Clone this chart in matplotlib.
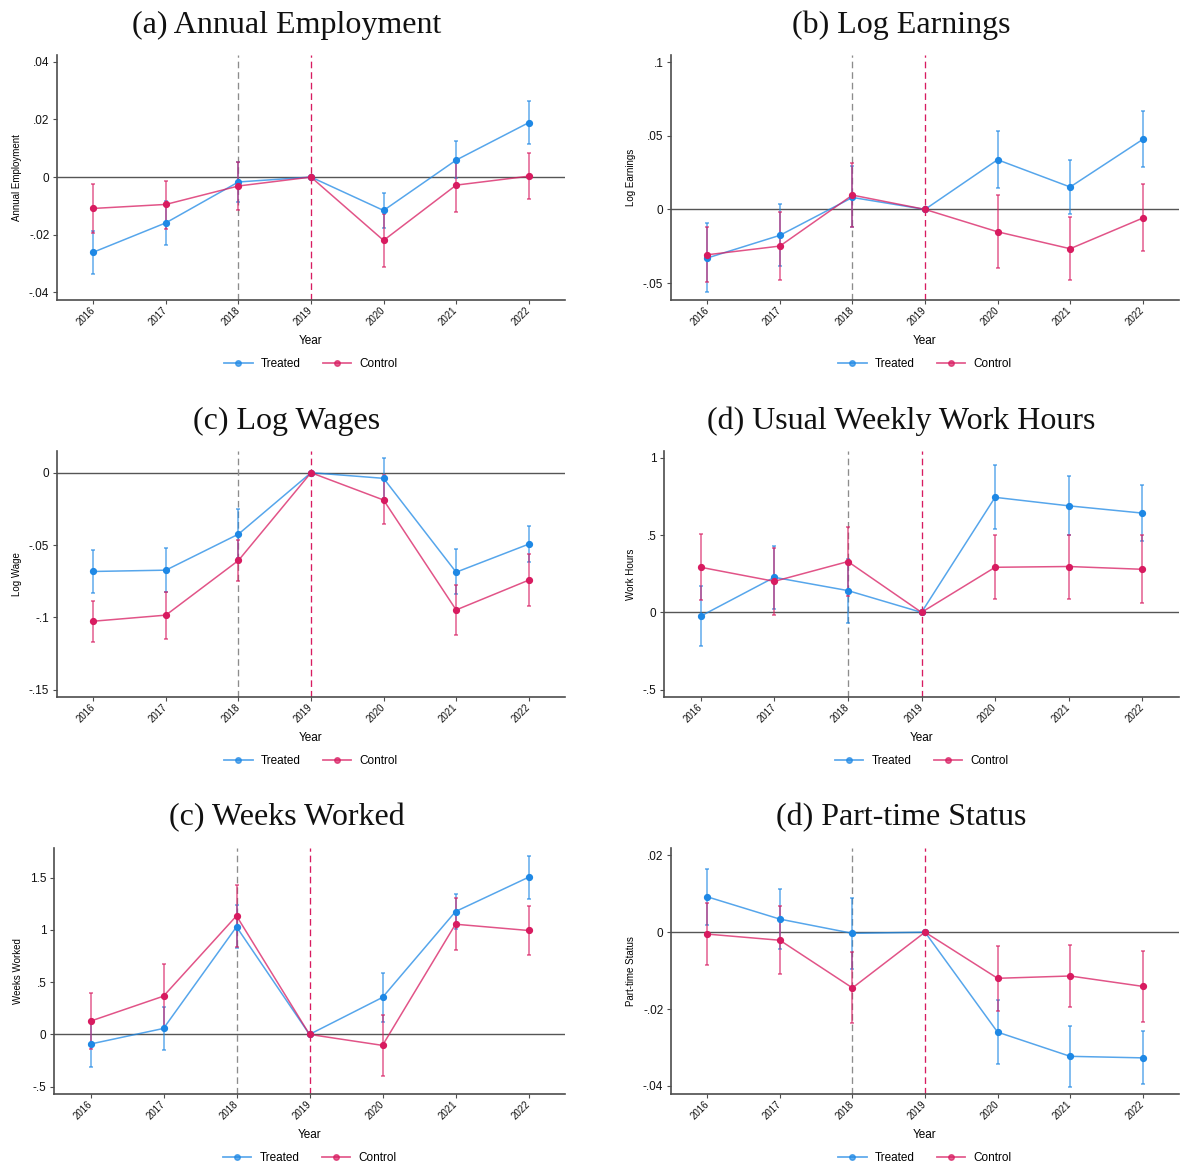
import matplotlib
matplotlib.use("Agg")
import matplotlib.pyplot as plt
from matplotlib.lines import Line2D

# event-study estimates (2019 is the omitted base year)
years = [2016, 2017, 2018, 2019, 2020, 2021, 2022]

emp_t = [-0.0261, -0.0159, -0.0017, 0, -0.0116, 0.0059, 0.0189]
emp_t_lo = [-0.0337, -0.0235, -0.0086, 0, -0.0176, -0.0003, 0.0114]
emp_t_hi = [-0.0187, -0.0082, 0.0052, 0, -0.0056, 0.0124, 0.0264]
emp_c = [-0.0109, -0.0095, -0.0031, 0, -0.0220, -0.0028, 0.0003]
emp_c_lo = [-0.0194, -0.0179, -0.0116, 0, -0.0311, -0.0122, -0.0077]
emp_c_hi = [-0.0024, -0.0012, 0.0052, 0, -0.0129, 0.0064, 0.0082]

earn_t = [-0.0330, -0.0176, 0.0081, 0, 0.0337, 0.0152, 0.0475]
earn_t_lo = [-0.0563, -0.0385, -0.0122, 0, 0.0147, -0.0029, 0.0285]
earn_t_hi = [-0.0095, 0.0034, 0.0294, 0, 0.0529, 0.0335, 0.0667]
earn_c = [-0.0308, -0.0249, 0.0097, 0, -0.0152, -0.0267, -0.0059]
earn_c_lo = [-0.0493, -0.0477, -0.0118, 0, -0.0398, -0.0477, -0.0285]
earn_c_hi = [-0.0122, -0.0018, 0.0314, 0, 0.0095, -0.0054, 0.0170]

wage_t = [-0.0683, -0.0674, -0.0425, 0, -0.0039, -0.0688, -0.0494]
wage_t_lo = [-0.0829, -0.0824, -0.0593, 0, -0.0178, -0.0842, -0.0619]
wage_t_hi = [-0.0535, -0.0519, -0.0252, 0, 0.0102, -0.0531, -0.0369]
wage_c = [-0.1027, -0.0985, -0.0607, 0, -0.0189, -0.0949, -0.0743]
wage_c_lo = [-0.1170, -0.1152, -0.0750, 0, -0.0355, -0.1119, -0.0921]
wage_c_hi = [-0.0886, -0.0824, -0.0464, 0, -0.0018, -0.0780, -0.0565]

hours_t = [-0.024, 0.227, 0.141, 0, 0.745, 0.690, 0.643]
hours_t_lo = [-0.216, 0.019, -0.071, 0, 0.537, 0.504, 0.463]
hours_t_hi = [0.169, 0.433, 0.348, 0, 0.952, 0.881, 0.823]
hours_c = [0.292, 0.201, 0.329, 0, 0.292, 0.297, 0.279]
hours_c_lo = [0.078, -0.017, 0.108, 0, 0.084, 0.084, 0.058]
hours_c_hi = [0.506, 0.420, 0.556, 0, 0.498, 0.504, 0.500]

weeks_t = [-0.092, 0.057, 1.029, 0, 0.354, 1.175, 1.503]
weeks_t_lo = [-0.309, -0.153, 0.825, 0, 0.121, 1.010, 1.296]
weeks_t_hi = [0.125, 0.264, 1.236, 0, 0.586, 1.341, 1.710]
weeks_c = [0.127, 0.366, 1.134, 0, -0.105, 1.054, 0.994]
weeks_c_lo = [-0.137, 0.054, 0.838, 0, -0.398, 0.803, 0.758]
weeks_c_hi = [0.395, 0.678, 1.430, 0, 0.188, 1.309, 1.229]

pt_t = [0.0092, 0.0034, -0.0003, 0, -0.0260, -0.0323, -0.0327]
pt_t_lo = [0.0019, -0.0044, -0.0097, 0, -0.0344, -0.0402, -0.0396]
pt_t_hi = [0.0165, 0.0113, 0.0090, 0, -0.0176, -0.0244, -0.0257]
pt_c = [-0.0005, -0.0021, -0.0145, 0, -0.0120, -0.0114, -0.0141]
pt_c_lo = [-0.0086, -0.0109, -0.0237, 0, -0.0206, -0.0195, -0.0234]
pt_c_hi = [0.0075, 0.0068, -0.0051, 0, -0.0035, -0.0033, -0.0048]

titles = ["(a) Annual Employment", "(b) Log Earnings", "(c) Log Wages",
          "(d) Usual Weekly Work Hours", "(c) Weeks Worked", "(d) Part-time Status"]
ylabels = ["Annual Employment", "Log Earnings", "Log Wage",
           "Work Hours", "Weeks Worked", "Part-time Status"]
ytick_vals = [[-0.04, -0.02, 0, 0.02, 0.04], [-0.05, 0, 0.05, 0.1],
              [-0.15, -0.1, -0.05, 0], [-0.5, 0, 0.5, 1],
              [-0.5, 0, 0.5, 1, 1.5], [-0.04, -0.02, 0, 0.02]]
ytick_labels = [["-.04", "-.02", "0", ".02", ".04"], ["-.05", "0", ".05", ".1"],
                ["-.15", "-.1", "-.05", "0"], ["-.5", "0", ".5", "1"],
                ["-.5", "0", ".5", "1", "1.5"], ["-.04", "-.02", "0", ".02"]]

series = [
    (emp_t, emp_t_lo, emp_t_hi, emp_c, emp_c_lo, emp_c_hi),
    (earn_t, earn_t_lo, earn_t_hi, earn_c, earn_c_lo, earn_c_hi),
    (wage_t, wage_t_lo, wage_t_hi, wage_c, wage_c_lo, wage_c_hi),
    (hours_t, hours_t_lo, hours_t_hi, hours_c, hours_c_lo, hours_c_hi),
    (weeks_t, weeks_t_lo, weeks_t_hi, weeks_c, weeks_c_lo, weeks_c_hi),
    (pt_t, pt_t_lo, pt_t_hi, pt_c, pt_c_lo, pt_c_hi),
]

# layout in pixels: (left, right, top, bottom) of each plot area, y limits
W, H = 1181, 1169
boxes = [(57, 565, 55, 300), (671, 1179, 55, 300),
         (57, 565, 451, 697), (664, 1179, 451, 697),
         (54, 565, 848, 1094), (671, 1179, 848, 1094)]
ylims = [(-0.0427, 0.0424), (-0.0615, 0.1048), (-0.1551, 0.0150),
         (-0.548, 1.045), (-0.570, 1.783), (-0.0421, 0.0219)]
title_x = [287, 901]
title_y = [25, 421, 818]

BLUE = "#1E88E5"
RED = "#D81B60"
AXIS = "#4d4d4d"

plt.rcParams["font.family"] = ["Liberation Sans", "DejaVu Sans"]

fig = plt.figure(figsize=(W / 100, H / 100), dpi=100)
fig.patch.set_facecolor("white")


def draw_series(ax, est, lo, hi, color):
    yerr = [[e - l for e, l in zip(est, lo)], [h - e for e, h in zip(est, hi)]]
    ax.errorbar(years, est, yerr=yerr, fmt="none", ecolor=color, alpha=0.7,
                elinewidth=1.1, capsize=1.6, capthick=1.1, zorder=3)
    ax.plot(years, est, color=color, alpha=0.75, linewidth=1.1, zorder=4)
    ax.plot(years, est, linestyle="none", marker="o", markersize=4.2,
            color=color, zorder=5)


for i in range(6):
    left, right, top, bottom = boxes[i]
    ax = fig.add_axes([left / W, 1 - bottom / H, (right - left) / W, (bottom - top) / H])
    t, t_lo, t_hi, c, c_lo, c_hi = series[i]

    ax.axhline(0, color="#555555", linewidth=1.0, zorder=1)
    ax.axvline(2018, color="#8c8c8c", linestyle=(0, (5, 3)), linewidth=0.95, zorder=2)
    ax.axvline(2019, color=RED, linestyle=(0, (5, 3)), linewidth=0.95, zorder=2)

    draw_series(ax, t, t_lo, t_hi, BLUE)
    draw_series(ax, c, c_lo, c_hi, RED)

    ax.set_xlim(2015.5, 2022.5)
    ax.set_ylim(*ylims[i])
    ax.set_xticks(years)
    ax.set_xticklabels([str(y) for y in years], rotation=45, ha="right",
                       va="center", rotation_mode="anchor", fontsize=7)
    ax.set_yticks(ytick_vals[i])
    ax.set_yticklabels(ytick_labels[i], fontsize=8.5)
    ax.tick_params(axis="both", direction="out", length=3, width=0.8,
                   color=AXIS, labelcolor="#111111", pad=2.5)
    ax.tick_params(axis="x", pad=3)
    for side in ["top", "right"]:
        ax.spines[side].set_visible(False)
    for side in ["left", "bottom"]:
        ax.spines[side].set_color(AXIS)
        ax.spines[side].set_linewidth(1.2)

    ax.set_ylabel(ylabels[i], fontsize=7, labelpad=5)
    ax.set_xlabel("Year", fontsize=8.5, labelpad=6)

    handles = [Line2D([], [], color=BLUE, alpha=0.7, linewidth=1.3, marker="o",
                      markersize=4, markerfacecolor=BLUE, markeredgecolor=BLUE),
               Line2D([], [], color=RED, alpha=0.7, linewidth=1.3, marker="o",
                      markersize=4, markerfacecolor=RED, markeredgecolor=RED)]
    ax.legend(handles, ["Treated", "Control"], loc="center",
              bbox_to_anchor=(0.5, -64 / (bottom - top)), ncol=2, frameon=False,
              fontsize=8.5, handlelength=2.4, handletextpad=0.7, columnspacing=1.9)

    fig.text(title_x[i % 2] / W, 1 - title_y[i // 2] / H, titles[i],
             family=["Liberation Serif", "DejaVu Serif"], fontsize=23,
             ha="center", va="center", color="#111111")

fig.savefig("out.png", dpi=100)
